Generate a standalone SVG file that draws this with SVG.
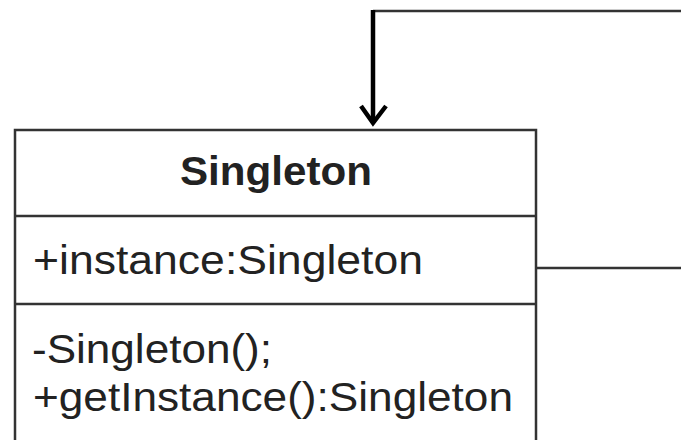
<svg xmlns="http://www.w3.org/2000/svg" width="681" height="440" viewBox="0 0 681 440">
<style>
.t{font-family:"Liberation Sans",Arial,sans-serif;font-size:40px;fill:#222}
.b{font-weight:bold}
.ln{stroke:#333;stroke-width:2.5;fill:none}
</style>
<rect width="681" height="440" fill="#fff"/>
<g id="connectors">
<path d="M373 11 H681" stroke="#333" stroke-width="2.5" fill="none"/>
<path d="M373 10 V123" stroke="#000" stroke-width="4.5" fill="none"/>
<path d="M361 106 L373 123 L386 106" stroke="#000" stroke-width="4.5" fill="none"/>
<path d="M536 268 H681" class="ln"/>
</g>
<g id="singleton">
<rect x="15" y="130" width="521" height="330" fill="#fff" class="ln"/>
<line x1="15" y1="216" x2="536" y2="216" class="ln"/>
<line x1="15" y1="304" x2="536" y2="304" class="ln"/>
<text class="t b" x="180" y="185" textLength="192" lengthAdjust="spacingAndGlyphs">Singleton</text>
<text class="t" x="33" y="274" textLength="390" lengthAdjust="spacingAndGlyphs">+instance:Singleton</text>
<text class="t" x="32" y="363" textLength="240" lengthAdjust="spacingAndGlyphs">-Singleton();</text>
<text class="t" x="33" y="411" textLength="480" lengthAdjust="spacingAndGlyphs">+getInstance():Singleton</text>
</g>
</svg>
